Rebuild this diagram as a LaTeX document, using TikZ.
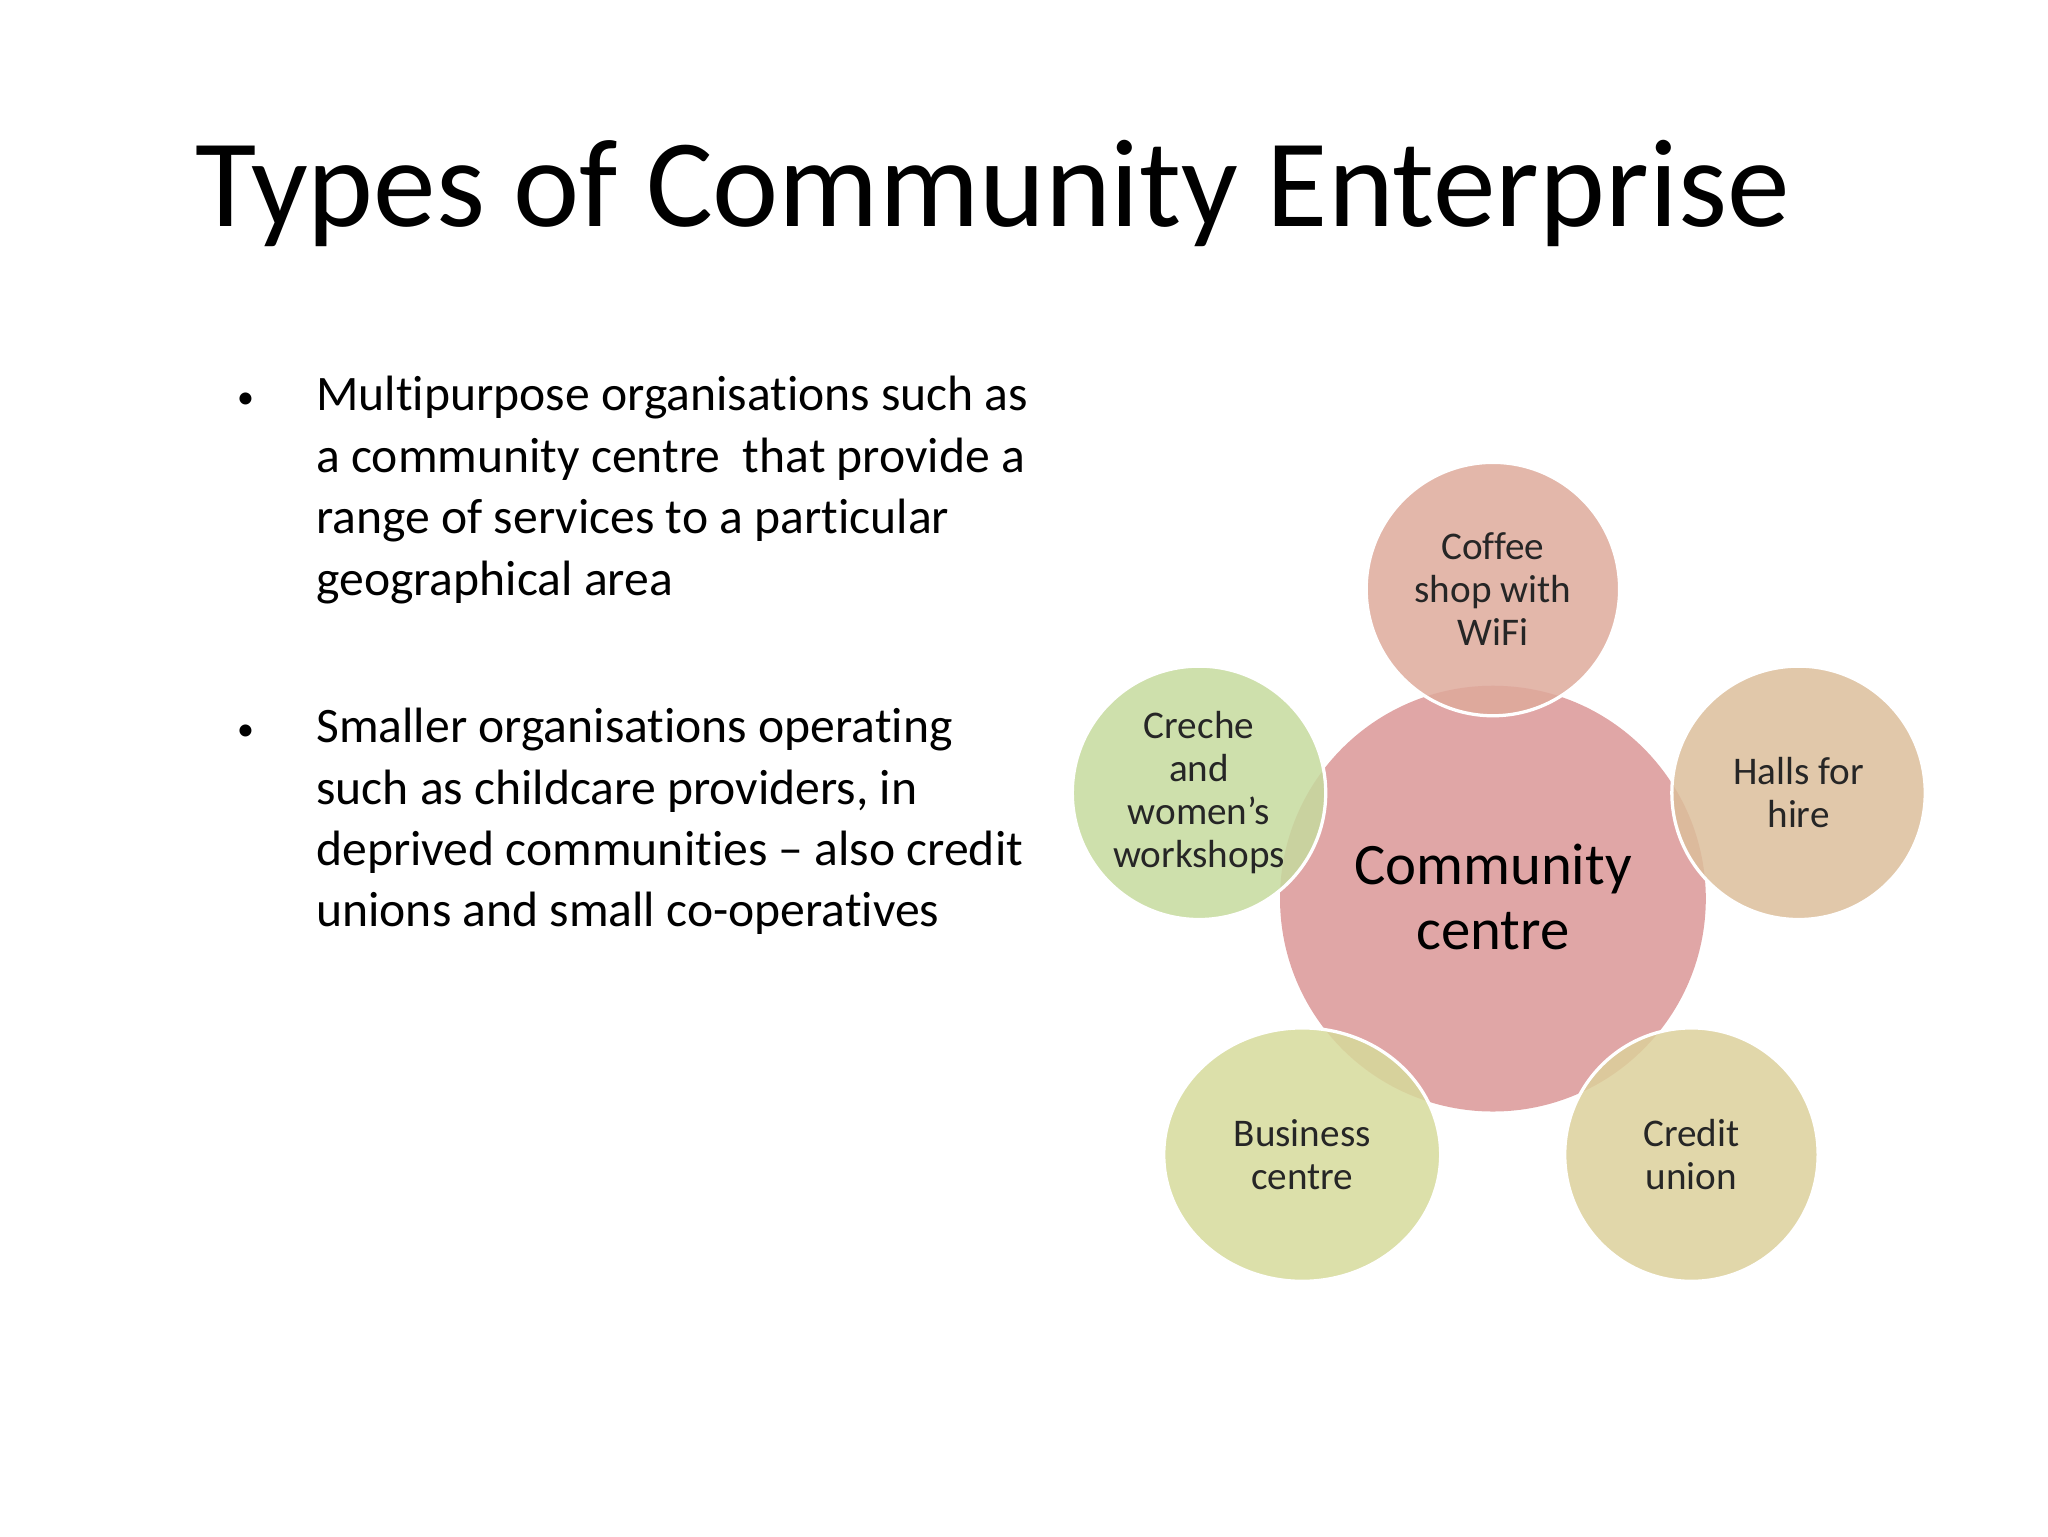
\documentclass[tikz,border=0pt]{standalone}
\usepackage{fontspec}
\usetikzlibrary{shapes.geometric}
\setmainfont[Ligatures=NoCommon]{Carlito}
\begin{document}
\begin{tikzpicture}[x=1pt,y=-1pt,
  sat/.style={circle,draw=white,line width=2.5pt,fill opacity=0.85,text opacity=1,minimum size=194pt,inner sep=0pt,align=center,font=\fontsize{30}{33}\selectfont,text=black!85},
  body/.style={font=\fontsize{38}{47}\selectfont,align=left,inner sep=0pt}]
\useasboundingbox (0,0) rectangle (1568,1176);
\node[anchor=center,font=\fontsize{96}{100}\selectfont] (title) at (760,148) {Types of Community Enterprise};
\node[font=\fontsize{26}{26}\selectfont] (b1) at (188,307) {•};
\node[body,anchor=north west] (t1) at (242,288) {Multipurpose organisations such as\\a community centre\ \ that provide a\\range of services to a particular\\geographical area};
\node[font=\fontsize{26}{26}\selectfont] (b2) at (188,561) {•};
\node[body,anchor=north west] (t2) at (242,542) {Smaller organisations operating\\such as childcare providers, in\\deprived communities -- also credit\\unions and small co-operatives};
\node[circle,fill={rgb,255:red,224;green,166;blue,166},minimum size=326pt,inner sep=0pt] (c) at (1143,688) {};
\node[sat,fill={rgb,255:red,222;green,170;blue,155}] (coffee) at (1143,451) {Coffee\\shop with\\WiFi};
\node[sat,fill={rgb,255:red,220;green,190;blue,155}] (halls) at (1377,607) {Halls for\\hire};
\node[sat,fill={rgb,255:red,220;green,208;blue,155}] (credit) at (1295,884) {Credit\\union};
\node[sat,ellipse,minimum width=212pt,minimum height=194pt,fill={rgb,255:red,214;green,218;blue,155}] (bus) at (997,884) {Business\\centre};
\node[sat,fill={rgb,255:red,198;green,218;blue,158}] (creche) at (918,607) {Creche\\and\\women’s\\workshops};
\node[align=center,font=\fontsize{45}{50}\selectfont] (ct) at (1143,687) {Community\\centre};
\end{tikzpicture}
\end{document}
